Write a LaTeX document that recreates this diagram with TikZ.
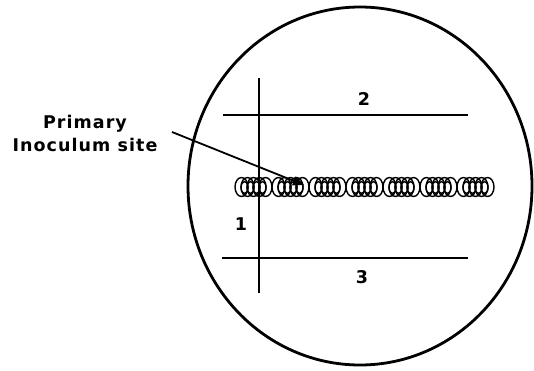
\documentclass[tikz,border=0pt]{standalone}
\usepackage{fontspec}
\usetikzlibrary{arrows.meta}
\newfontfamily\lblfont{DejaVu Sans}[LetterSpace=6]
\tikzset{
  lbl/.style={font=\lblfont\bfseries\fontsize{17.5}{20}\selectfont, inner sep=0pt},
  plate/.style={line width=2.8pt},
  streak/.style={line width=1.7pt},
  colony/.style={line width=1.4pt},
  pointer/.style={line width=1.8pt, -{Triangle[length=11pt,width=9pt]}}
}
\begin{document}
\begin{tikzpicture}[x=1pt,y=-1pt]
\useasboundingbox (0,0) rectangle (534,370);
% plate
\draw[plate] (360,186) ellipse [x radius=172, y radius=179];
% streak lines
\coordinate (vtop) at (259,78);
\coordinate (vbot) at (259,293);
\coordinate (h1l) at (223,115);
\coordinate (h1r) at (468,115);
\coordinate (h2l) at (222,258);
\coordinate (h2r) at (468,258);
\draw[streak] (vtop) -- (vbot);
\draw[streak] (h1l) -- (h1r);
\draw[streak] (h2l) -- (h2r);
% labels
\node[lbl, anchor=base] (n2) at (364,105) {2};
\node[lbl, anchor=base] (n3) at (362,283) {3};
\node[lbl, anchor=base] (n1) at (241,230) {1};
\node[lbl, anchor=base] (primary) at (85,128) {Primary};
\node[lbl, anchor=base] (inoc) at (85,151) {Inoculum site};
% colony chain
\foreach \g in {0,...,6}{
  \foreach \j in {0,...,4}{
    \draw[colony] ({241.5+37*\g+6*\j},187) ellipse [x radius=6.5, y radius=9.5];
  }
  \foreach \j in {0,...,3}{
    \draw[colony] ({244.5+37*\g+6*\j},187.5) ellipse [x radius=3.5, y radius=6];
  }
}
% pointer
\coordinate (astart) at (172,132);
\coordinate (site) at (304,185);
\draw[pointer] (astart) -- (site);
\end{tikzpicture}
\end{document}
